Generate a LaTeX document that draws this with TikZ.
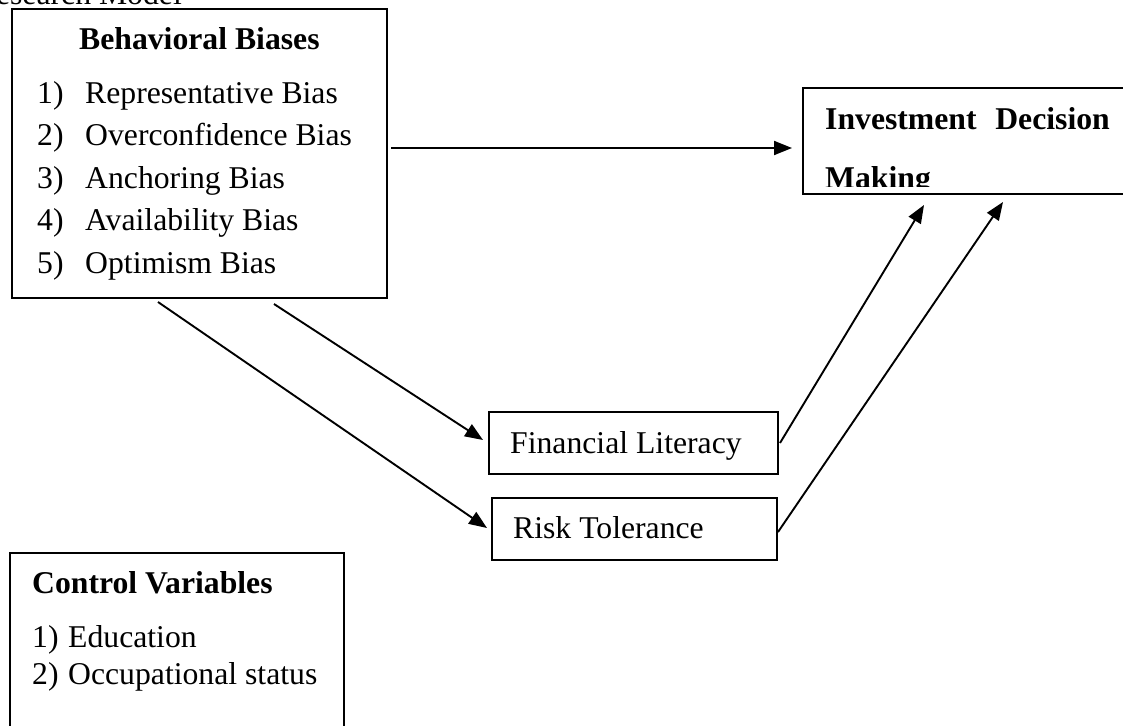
\documentclass[tikz,border=0pt]{standalone}
\usepackage{fontspec}
\setmainfont{Liberation Serif}
\usetikzlibrary{arrows.meta,calc}
\tikzset{
  box/.style={draw, line width=2pt, inner sep=0pt, minimum width=#1},
  txt/.style={inner sep=0pt, anchor=base west, font=\fontsize{31.7}{38}\selectfont},
  btxt/.style={txt, font=\fontsize{31.7}{38}\selectfont\bfseries},
  conn/.style={line width=1.9pt, -{Triangle[length=18pt,width=14pt]}}
}
\begin{document}
\begin{tikzpicture}[x=1pt,y=-1pt]
\useasboundingbox (0,0) rectangle (1123,725);
\node[txt, anchor=base east] (title) at (182,5) {Research Model};
% boxes
\node[box=375pt, minimum height=289pt] (bb) at (199.5,153.5) {};
\node[box=337pt, minimum height=106pt] (idm) at (971.5,141) {};
\node[box=289pt, minimum height=62pt] (fl) at (633.5,443) {};
\node[box=285pt, minimum height=62pt] (rt) at (634.5,529) {};
\node[box=334pt, minimum height=207pt] (cv) at (177,656.5) {};
% behavioral biases text
\node[btxt] (bbt) at (79,49) {Behavioral Biases};
\node[txt] (n1) at (37,103) {1)};
\node[txt] (t1) at (85,103) {Representative Bias};
\node[txt] (n2) at (37,145.5) {2)};
\node[txt] (t2) at (85,145.5) {Overconfidence Bias};
\node[txt] (n3) at (37,188) {3)};
\node[txt] (t3) at (85,188) {Anchoring Bias};
\node[txt] (n4) at (37,230.5) {4)};
\node[txt] (t4) at (85,230.5) {Availability Bias};
\node[txt] (n5) at (37,273) {5)};
\node[txt] (t5) at (85,273) {Optimism Bias};
% investment decision making
\node[btxt] (idm1) at (825,129) {Investment};
\node[btxt, anchor=base east] (idm2) at (1110,129) {Decision};
\begin{scope}
\clip (800,150) rectangle (1123,186);
\node[btxt] (idm3) at (825,188) {Making};
\end{scope}
% mediators
\node[txt] (flt) at (510,453) {Financial Literacy};
\node[txt] (rtt) at (513,538) {Risk Tolerance};
% control variables
\node[btxt] (cvt) at (32,593) {Control Variables};
\node[txt] (c1n) at (32,647) {1)};
\node[txt] (c1) at (68,647) {Education};
\node[txt] (c2n) at (32,684) {2)};
\node[txt] (c2) at (68,684) {Occupational status};
% connectors
\draw[conn] ([xshift=3pt,yshift=5.5pt]bb.east) -- ([xshift=-10pt,yshift=-7pt]idm.west);
\draw[conn] ([xshift=74.5pt,yshift=-5pt]bb.south) -- ([xshift=-5pt,yshift=3pt]fl.west);
\draw[conn] ([xshift=-41.5pt,yshift=-3pt]bb.south) -- ([xshift=-4pt,yshift=1pt]rt.west);
\draw[conn] ([xshift=1pt]fl.east) -- ([xshift=-47.5pt,yshift=-10pt]idm.south);
\draw[conn] ([yshift=-3pt]rt.east) -- ([xshift=31.5pt,yshift=-7pt]idm.south);
\end{tikzpicture}
\end{document}
